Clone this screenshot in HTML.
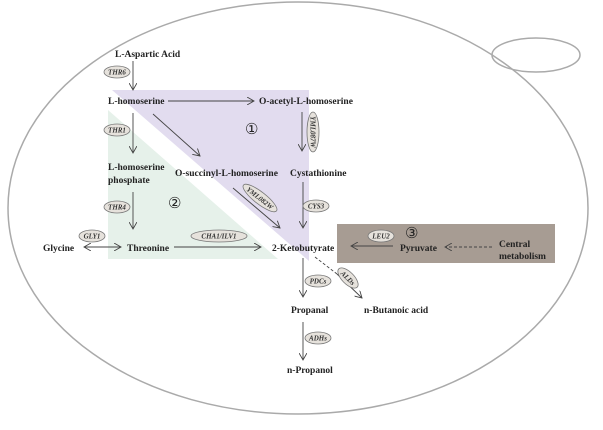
<!DOCTYPE html>
<html><head><meta charset="utf-8"><style>
body{margin:0;background:#fff}
svg text{font-family:"Liberation Serif",serif;font-weight:bold;font-size:9.5px;fill:#222}
.e{fill:#e6e2dc;stroke:#777;stroke-width:0.8}
.g{font-style:italic;font-size:7px;fill:#333}
.l{stroke:#444;stroke-width:0.9;fill:none}
</style></head><body>
<svg width="603" height="425" viewBox="0 0 603 425" xmlns="http://www.w3.org/2000/svg">
<defs><marker id="a" markerWidth="8" markerHeight="8" refX="7" refY="4" orient="auto" markerUnits="userSpaceOnUse"><path d="M0,0 L7,4 L0,8" fill="none" stroke="#444" stroke-width="0.9"/></marker>
<marker id="b" markerWidth="8" markerHeight="8" refX="1" refY="4" orient="auto" markerUnits="userSpaceOnUse"><path d="M8,0 L1,4 L8,8" fill="none" stroke="#444" stroke-width="0.9"/></marker></defs>
<ellipse cx="298" cy="208" rx="290" ry="206" fill="none" stroke="#aaa" stroke-width="1.5"/>
<ellipse cx="536" cy="55" rx="44" ry="17" fill="none" stroke="#aaa" stroke-width="1.5"/>
<polygon points="112,90 309,90 309,261" fill="#e2dcef"/>
<polygon points="108,110 108,259 278,259" fill="#e6f1ea"/>
<rect x="337" y="224" width="218" height="39" fill="#a79c93"/>
<text x="115" y="57">L-Aspartic Acid</text>
<line class="l" x1="133" y1="61" x2="133" y2="90" marker-end="url(#a)"/>
<ellipse class="e" cx="117" cy="72" rx="13" ry="6"/><text class="g" x="117" y="74.5" text-anchor="middle">THR6</text>
<text x="108" y="104">L-homoserine</text>
<line class="l" x1="168" y1="101" x2="254" y2="101" marker-end="url(#a)"/>
<text x="259" y="104">O-acetyl-L-homoserine</text>
<text x="245" y="134" style="font-weight:normal;font-size:15px">①</text>
<line class="l" x1="133" y1="113" x2="133" y2="153" marker-end="url(#a)"/>
<ellipse class="e" cx="117" cy="130" rx="13" ry="6"/><text class="g" x="117" y="132.5" text-anchor="middle">THR1</text>
<line class="l" x1="153" y1="114" x2="200" y2="156" marker-end="url(#a)"/>
<line class="l" x1="302" y1="112" x2="302" y2="151" marker-end="url(#a)"/>
<ellipse class="e" cx="313" cy="132" rx="6" ry="20"/><text class="g" x="313" y="132" text-anchor="middle" transform="rotate(90 313 132)" dy="2.5">YML087W</text>
<text x="108" y="170">L-homoserine</text>
<text x="108" y="183">phosphate</text>
<text x="175" y="176">O-succinyl-L-homoserine</text>
<text x="290" y="176">Cystathionine</text>
<line class="l" x1="233" y1="188" x2="280" y2="228" marker-end="url(#a)"/>
<ellipse class="e" cx="260" cy="198" rx="21" ry="6" transform="rotate(38 260 198)"/><text class="g" x="260" y="200.5" text-anchor="middle" transform="rotate(38 260 198)">YML082W</text>
<line class="l" x1="303" y1="182" x2="303" y2="228" marker-end="url(#a)"/>
<ellipse class="e" cx="316" cy="206" rx="13" ry="6"/><text class="g" x="316" y="208.5" text-anchor="middle">CYS3</text>
<text x="168" y="208" style="font-weight:normal;font-size:15px">②</text>
<line class="l" x1="133" y1="192" x2="133" y2="229" marker-end="url(#a)"/>
<ellipse class="e" cx="117" cy="207" rx="13" ry="6"/><text class="g" x="117" y="209.5" text-anchor="middle">THR4</text>
<ellipse class="e" cx="92" cy="236" rx="13" ry="6"/><text class="g" x="92" y="238.5" text-anchor="middle">GLY1</text>
<text x="43" y="251">Glycine</text>
<line class="l" x1="84" y1="247" x2="121" y2="247" marker-start="url(#b)" marker-end="url(#a)"/>
<text x="127" y="251">Threonine</text>
<line class="l" x1="174" y1="247" x2="261" y2="247" marker-end="url(#a)"/>
<ellipse class="e" cx="219" cy="236" rx="28" ry="6"/><text class="g" x="219" y="238.5" text-anchor="middle">CHA1/ILV1</text>
<text x="272" y="251">2-Ketobutyrate</text>
<line class="l" x1="393" y1="246" x2="351" y2="246" marker-end="url(#a)"/>
<ellipse class="e" cx="381" cy="236" rx="13" ry="6"/><text class="g" x="381" y="238.5" text-anchor="middle">LEU2</text>
<text x="405" y="238" style="font-weight:normal;font-size:15px">③</text>
<text x="400" y="251">Pyruvate</text>
<line class="l" x1="492" y1="247" x2="445" y2="247" stroke-dasharray="3,2" marker-end="url(#a)"/>
<text x="499" y="247">Central</text>
<text x="499" y="259">metabolism</text>
<line class="l" x1="303" y1="258" x2="303" y2="297" marker-end="url(#a)"/>
<ellipse class="e" cx="318" cy="281" rx="13" ry="6"/><text class="g" x="318" y="283.5" text-anchor="middle">PDCs</text>
<line class="l" x1="315" y1="257" x2="337" y2="274" stroke-dasharray="3,2"/>
<line class="l" x1="337" y1="274" x2="362" y2="298" marker-end="url(#a)"/>
<ellipse class="e" cx="348" cy="278" rx="13" ry="6" transform="rotate(45 348 278)"/><text class="g" x="348" y="280.5" text-anchor="middle" transform="rotate(45 348 278)">ALDs</text>
<text x="291" y="313">Propanal</text>
<text x="364" y="313">n-Butanoic acid</text>
<line class="l" x1="303" y1="322" x2="303" y2="360" marker-end="url(#a)"/>
<ellipse class="e" cx="318" cy="338" rx="13" ry="6"/><text class="g" x="318" y="340.5" text-anchor="middle">ADHs</text>
<text x="287" y="373">n-Propanol</text>
</svg>
</body></html>
